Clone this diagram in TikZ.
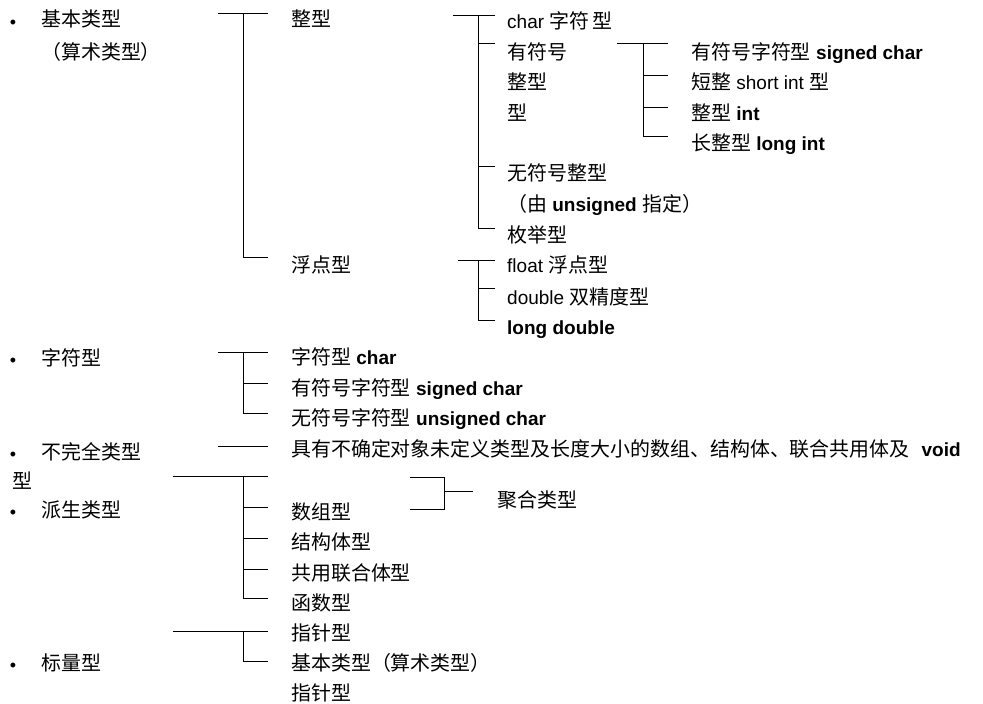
\documentclass[tikz,border=0pt]{standalone}
\usepackage{fontspec}
\setmainfont{Liberation Sans}
\newfontfamily\cjk[Scale=1.05]{Noto Sans CJK SC}
\newcommand\zhs[1]{{\cjk #1}}

\begin{document}
\begin{tikzpicture}[x=1pt,y=-1pt,
  tree/.style={line width=0.9pt},
  lbl/.style={anchor=base west, inner sep=0pt, font=\fontsize{19}{19}\selectfont},
  dot/.style={anchor=center, inner sep=0pt, font=\fontsize{18}{18}\selectfont}]
\useasboundingbox (0,0) rectangle (983,704);

% ---------- top-level categories ----------
\node[dot] (d1) at (13,24) {•};
\node[lbl] (basic)  at (41,27) {\zhs{基本类型}};
\node[lbl] (arith)  at (41,59) {\zhs{（算术类型）}};
\node[dot] (d2) at (13,362) {•};
\node[lbl] (chr)    at (41,365) {\zhs{字符型}};
\node[dot] (d3) at (13,456) {•};
\node[lbl] (incomp) at (41,459) {\zhs{不完全类型}};
\node[lbl] (wrap)   at (12,488) {\zhs{型}};
\node[dot] (d4) at (13,514) {•};
\node[lbl] (deriv)  at (41,517) {\zhs{派生类型}};
\node[dot] (d5) at (13,667) {•};
\node[lbl] (scalar) at (41,670) {\zhs{标量型}};

% ---------- basic types ----------
\node[lbl] (int)   at (291,27)  {\zhs{整型}};
\node[lbl] (float) at (291,272) {\zhs{浮点型}};

\node[lbl] (i1) at (507,28)  {char \zhs{字符}\hspace{3pt}\zhs{型}};
\node[lbl] (i2) at (507,59)  {\zhs{有符号}};
\node[lbl] (i3) at (507,89)  {\zhs{整型}};
\node[lbl] (i4) at (507,120) {\zhs{型}};
\node[lbl] (i5) at (507,180) {\zhs{无符号整型}};
\node[lbl] (i6) at (507,211) {\zhs{（由} \textbf{unsigned} \zhs{指定）}};
\node[lbl] (i7) at (507,242) {\zhs{枚举型}};

\node[lbl] (s1) at (691,59)  {\zhs{有符号字符型} \textbf{signed char}};
\node[lbl] (s2) at (691,89)  {\zhs{短整} short int \zhs{型}};
\node[lbl] (s3) at (691,120) {\zhs{整型} \textbf{int}};
\node[lbl] (s4) at (691,150) {\zhs{长整型} \textbf{long int}};

\node[lbl] (f1) at (507,272) {float \zhs{浮点型}};
\node[lbl] (f2) at (507,304) {double \zhs{双精度型}};
\node[lbl] (f3) at (507,334) {\textbf{long double}};

% ---------- character types ----------
\node[lbl] (c1) at (291,364) {\zhs{字符型} \textbf{char}};
\node[lbl] (c2) at (291,395) {\zhs{有符号字符型} \textbf{signed char}};
\node[lbl] (c3) at (291,425) {\zhs{无符号字符型} \textbf{unsigned char}};

% ---------- incomplete types ----------
\node[lbl] (n1) at (291,456) {\zhs{具有不确定对象未定义类型及长度大小的数组、结构体、联合共用体及}\hspace{12pt}\textbf{void}};

% ---------- derived types ----------
\node[lbl] (r1) at (291,519) {\zhs{数组型}};
\node[lbl] (r2) at (291,549) {\zhs{结构体型}};
\node[lbl] (r3) at (291,580) {\zhs{共用联合体型}};
\node[lbl] (r4) at (291,610) {\zhs{函数型}};
\node[lbl] (r5) at (291,640) {\zhs{指针型}};
\node[lbl] (agg) at (497,507) {\zhs{聚合类型}};

% ---------- scalar types ----------
\node[lbl] (k1) at (291,670) {\zhs{基本类型（算术类型）}};
\node[lbl] (k2) at (291,700) {\zhs{指针型}};

% ---------- bracket joints ----------
\coordinate (A0) at (218,13);  \coordinate (A1) at (268,13);
\coordinate (As) at (243,13);  \coordinate (A2) at (268,257);

\coordinate (B0) at (453,15);  \coordinate (B1) at (495,15);
\coordinate (Bs) at (478,15);
\coordinate (B2) at (495,43);  \coordinate (B3) at (495,166);
\coordinate (B4) at (495,228);

\coordinate (C0) at (617,43);  \coordinate (C1) at (668,43);
\coordinate (Cs) at (643,43);
\coordinate (C2) at (668,75);  \coordinate (C3) at (668,107);
\coordinate (C4) at (668,136);

\coordinate (D0) at (458,260); \coordinate (D1) at (495,260);
\coordinate (Ds) at (478,260);
\coordinate (D2) at (495,288); \coordinate (D3) at (495,320);

\coordinate (E0) at (218,352); \coordinate (E1) at (268,352);
\coordinate (Es) at (243,352);
\coordinate (E2) at (268,383); \coordinate (E3) at (268,413);

\coordinate (F0) at (218,446); \coordinate (F1) at (268,446);

\coordinate (G0) at (173,476); \coordinate (G1) at (268,476);
\coordinate (Gs) at (243,476);
\coordinate (G2) at (268,507); \coordinate (G3) at (268,538);
\coordinate (G4) at (268,569); \coordinate (G5) at (268,598);

\coordinate (H0) at (410,477); \coordinate (H1) at (410,509);
\coordinate (Hs) at (444,491); \coordinate (H2) at (473,491);

\coordinate (I0) at (173,631); \coordinate (I1) at (268,631);
\coordinate (Is) at (243,631); \coordinate (I2) at (268,661);

% ---------- bracket lines ----------
\draw[tree] (A0) -- (A1);  \draw[tree] (As) |- (A2);

\draw[tree] (B0) -- (B1);
\draw[tree] (Bs) |- (B2);  \draw[tree] (Bs) |- (B3);  \draw[tree] (Bs) |- (B4);

\draw[tree] (C0) -- (C1);
\draw[tree] (Cs) |- (C2);  \draw[tree] (Cs) |- (C3);  \draw[tree] (Cs) |- (C4);

\draw[tree] (D0) -- (D1);
\draw[tree] (Ds) |- (D2);  \draw[tree] (Ds) |- (D3);

\draw[tree] (E0) -- (E1);
\draw[tree] (Es) |- (E2);  \draw[tree] (Es) |- (E3);

\draw[tree] (F0) -- (F1);

\draw[tree] (G0) -- (G1);
\draw[tree] (Gs) |- (G2);  \draw[tree] (Gs) |- (G3);
\draw[tree] (Gs) |- (G4);  \draw[tree] (Gs) |- (G5);

\draw[tree] (H0) -| (Hs |- H0) -- (Hs |- H1) -- (H1);
\draw[tree] (Hs) -- (H2);

\draw[tree] (I0) -- (I1);  \draw[tree] (Is) |- (I2);
\end{tikzpicture}
\end{document}
